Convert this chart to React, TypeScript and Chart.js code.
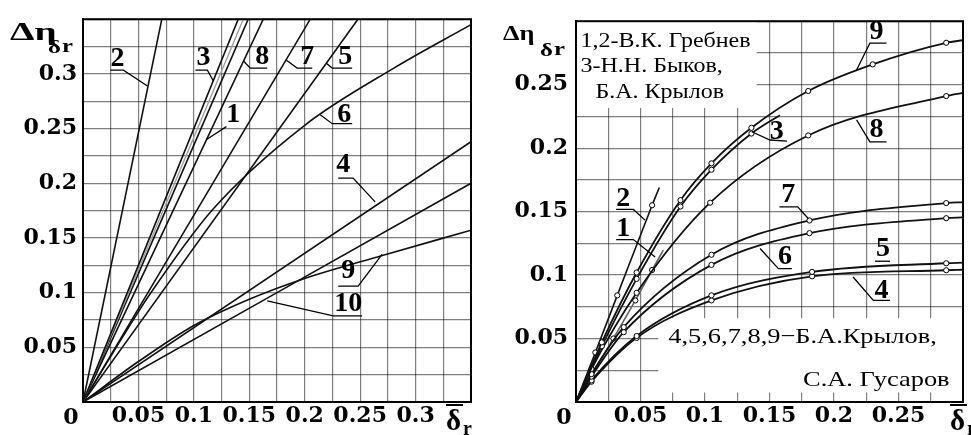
import React, { useEffect, useRef } from 'react';
import { Chart, registerables } from 'chart.js';

Chart.register(...registerables);

// ================= LEFT PANEL (both axes 0 .. 0.35) =================
const leftXTickLabels = ['0.05', '0.1', '0.15', '0.2', '0.25', '0.3'];
const leftYTickLabels = ['0.05', '0.1', '0.15', '0.2', '0.25', '0.3'];

const left2X = [0, 0.0711];
const left2Y = [0, 0.35];
const left3X = [0, 0.14];
const left3Y = [0, 0.35];
const left1fX = [0, 0.1446];
const left1fY = [0, 0.35];
const left1X = [0, 0.149];
const left1Y = [0, 0.35];
const left8X = [0, 0.1626];
const left8Y = [0, 0.35];
const left7X = [0, 0.205];
const left7Y = [0, 0.35];
const left5X = [0, 0.248];
const left5Y = [0, 0.35];
const left6X = [0, 0.03, 0.06, 0.117, 0.2, 0.28, 0.35];
const left6Y = [0, 0.05, 0.098, 0.176, 0.253, 0.305, 0.345];
const left4X = [0, 0.35];
const left4Y = [0, 0.238];
const left9X = [0, 0.05, 0.1, 0.15, 0.2, 0.27, 0.35];
const left9Y = [0, 0.037, 0.07, 0.094, 0.113, 0.134, 0.157];
const left10X = [0, 0.35];
const left10Y = [0, 0.2];

const leftLabelText = ['2', '3', '1', '8', '7', '5', '6', '4', '9', '10'];
const leftLabelX = [0.0311, 0.1086, 0.1356, 0.1617, 0.2023, 0.2365, 0.2356, 0.2347, 0.2392, 0.2392];
const leftLabelY = [0.3134, 0.3143, 0.2627, 0.3161, 0.3161, 0.3161, 0.2627, 0.2165, 0.1196, 0.0897];
const leftLeaders = [
  [[0.0248, 0.3034], [0.0365, 0.3034], [0.0581, 0.2889]],
  [[0.1014, 0.3034], [0.1122, 0.3034], [0.1176, 0.2935]],
  [[0.1293, 0.2518], [0.1115, 0.24]],
  [[0.145, 0.3116], [0.1509, 0.3053], [0.1662, 0.3053]],
  [[0.1835, 0.3125], [0.1932, 0.3053], [0.2068, 0.3053]],
  [[0.2195, 0.3098], [0.2248, 0.3053], [0.2428, 0.3053]],
  [[0.214, 0.2627], [0.2248, 0.2545], [0.2428, 0.2545]],
  [[0.2302, 0.2047], [0.2437, 0.2047], [0.2635, 0.183]],
  [[0.2302, 0.106], [0.2482, 0.106], [0.2698, 0.135]],
  [[0.2518, 0.0788], [0.2257, 0.0788], [0.1662, 0.0924]],
];

// ================= RIGHT PANEL (both axes 0 .. 0.3) =================
const rightXTickLabels = ['0.05', '0.1', '0.15', '0.2', '0.25'];
const rightYTickLabels = ['0.05', '0.1', '0.15', '0.2', '0.25'];

const right9X = [0, 0.02, 0.047, 0.081, 0.105, 0.136, 0.18, 0.23, 0.287, 0.3];
const right9Y = [0, 0.047, 0.102, 0.159, 0.188, 0.216, 0.245, 0.266, 0.283, 0.285];
const right3X = [0, 0.02, 0.047, 0.081, 0.105, 0.136, 0.158];
const right3Y = [0, 0.044, 0.097, 0.154, 0.183, 0.2115, 0.226];
const right8X = [0, 0.012, 0.047, 0.104, 0.18, 0.287, 0.3];
const right8Y = [0, 0.026, 0.086, 0.157, 0.21, 0.241, 0.2435];
const right7X = [0, 0.012, 0.037, 0.105, 0.181, 0.287, 0.3];
const right7Y = [0, 0.022, 0.059, 0.116, 0.143, 0.1567, 0.1575];
const right6X = [0, 0.012, 0.037, 0.105, 0.181, 0.287, 0.3];
const right6Y = [0, 0.02, 0.055, 0.108, 0.133, 0.1448, 0.1455];
const right5X = [0, 0.012, 0.047, 0.105, 0.183, 0.287, 0.3];
const right5Y = [0, 0.017, 0.052, 0.084, 0.1025, 0.1093, 0.1098];
const right4X = [0, 0.012, 0.047, 0.105, 0.183, 0.287, 0.3];
const right4Y = [0, 0.016, 0.0505, 0.08, 0.099, 0.1038, 0.1042];
const right2X = [0, 0.015, 0.032, 0.059, 0.0646];
const right2Y = [0, 0.039, 0.084, 0.155, 0.169];
const right1X = [0, 0.012, 0.029, 0.046, 0.059, 0.0677];
const right1Y = [0, 0.021, 0.05, 0.08, 0.104, 0.1196];

const rightLabelText = ['9', '3', '8', '7', '6', '5', '4', '2', '1'];
const rightLabelX = [0.2329, 0.1556, 0.2329, 0.1646, 0.162, 0.238, 0.2368, 0.0367, 0.0367];
const rightLabelY = [0.2919, 0.2129, 0.2143, 0.163, 0.1143, 0.1209, 0.088, 0.1604, 0.1367];
const rightLeaders = [
  [[0.2407, 0.2827], [0.2278, 0.2827], [0.2175, 0.2616]],
  [[0.1363, 0.2129], [0.1504, 0.2064], [0.1636, 0.2056]],
  [[0.2407, 0.205], [0.2278, 0.205], [0.2175, 0.2222]],
  [[0.1577, 0.1538], [0.1719, 0.1538], [0.18, 0.1446]],
  [[0.1673, 0.1051], [0.1569, 0.1051], [0.1427, 0.1209]],
  [[0.2318, 0.1109], [0.2434, 0.1109]],
  [[0.2434, 0.0801], [0.2305, 0.0801], [0.2148, 0.0985]],
  [[0.0311, 0.1517], [0.0445, 0.1517], [0.0535, 0.1433]],
  [[0.0311, 0.128], [0.0445, 0.128], [0.0613, 0.1143]],
];

// Text blocks inside the right panel
const rightTopLines = ['1,2-В.К. Гребнев', '3-Н.Н. Быков,', 'Б.А. Крылов'];
const rightTopLineX = [0.0035, 0.0035, 0.0151];
const rightTopLineY = [0.2837, 0.264, 0.2435];
const rightTopBox = [0, 0.2316, 0.14, 0.3];
const rightBottomLines = ['4,5,6,7,8,9−Б.А.Крылов,', 'С.А. Гусаров'];
const rightBottomLineX = [0.0715, 0.2896];
const rightBottomLineY = [0.0509, 0.017];
const rightBottomBox = [0.0638, 0.0075, 0.3, 0.066];

// ================= helpers =================
const SERIF = '"Liberation Serif", "Times New Roman", serif';
const TICK_FONT = { family: '"DejaVu Serif", serif', size: 22, weight: 'bold' as const };

function drawText(ctx: any, s: string, x: number, y: number, font: string, align = 'center', baseline = 'middle', sx = 1) {
  ctx.save();
  ctx.font = font;
  ctx.textAlign = align;
  ctx.textBaseline = baseline;
  ctx.fillStyle = '#000';
  ctx.translate(x, y);
  ctx.scale(sx, 1);
  ctx.fillText(s, 0, 0);
  ctx.restore();
}

function tickCb(labels: string[]) {
  return (v: any) => {
    const s = labels.find((l) => Math.abs(parseFloat(l) - Number(v)) < 1e-6);
    return s === undefined ? '' : s;
  };
}

type Series = { name: string; x: number[]; y: number[]; color: string; width: number };

type PanelCfg = {
  max: number;
  series: Series[];
  markers: boolean;
  xTicks: string[];
  yTicks: string[];
  yAxisW: number;
  xAxisH: number;
  padTop: number;
  padRight: number;
  yTickPad: number;
  labels: string[];
  labelX: number[];
  labelY: number[];
  leaders: number[][][];
  title: { dx: number; dy: number; size: number; sx: number; subDx: number; subDy: number; rDx: number };
  xTitleDx: number;
  boxes: number[][];
  boxTexts: { lines: string[]; xs: number[]; ys: number[]; size: number; align: string }[];
};

function annotPlugin(p: PanelCfg) {
  return {
    id: 'annot',
    beforeDatasetsDraw(chart: any) {
      const { ctx, scales } = chart;
      const xs = scales.x, ys = scales.y;
      ctx.save();
      ctx.fillStyle = '#fff';
      p.boxes.forEach((b) => {
        const x0 = xs.getPixelForValue(b[0]);
        const x1 = xs.getPixelForValue(b[2]);
        const y0 = ys.getPixelForValue(b[3]);
        const y1 = ys.getPixelForValue(b[1]);
        ctx.fillRect(x0, y0, x1 - x0, y1 - y0);
      });
      ctx.restore();
      p.boxTexts.forEach((bt) => {
        bt.lines.forEach((s, i) => {
          drawText(ctx, s, xs.getPixelForValue(bt.xs[i]), ys.getPixelForValue(bt.ys[i]),
            `${bt.size}px ${SERIF}`, bt.align, 'middle', 1.2);
        });
      });
    },
    afterDatasetsDraw(chart: any) {
      const { ctx, scales } = chart;
      const xs = scales.x, ys = scales.y;
      ctx.save();
      ctx.strokeStyle = '#000';
      ctx.lineWidth = 1.3;
      p.leaders.forEach((path) => {
        ctx.beginPath();
        path.forEach((pt, i) => {
          const px = xs.getPixelForValue(pt[0]);
          const py = ys.getPixelForValue(pt[1]);
          if (i === 0) ctx.moveTo(px, py); else ctx.lineTo(px, py);
        });
        ctx.stroke();
      });
      ctx.restore();
      p.labels.forEach((s, i) => {
        drawText(ctx, s, xs.getPixelForValue(p.labelX[i]), ys.getPixelForValue(p.labelY[i]),
          `bold 28px ${SERIF}`, 'center', 'middle', 1.0);
      });
    },
    afterDraw(chart: any) {
      const { ctx, chartArea: a } = chart;
      ctx.save();
      ctx.strokeStyle = '#000';
      ctx.lineWidth = 2;
      ctx.strokeRect(a.left, a.top, a.right - a.left, a.bottom - a.top);
      ctx.restore();
      // y title: Δη with subscript δr
      const t = p.title;
      drawText(ctx, 'Δη', a.left + t.dx, a.top + t.dy, `bold ${t.size}px ${SERIF}`, 'left', 'alphabetic', t.sx);
      drawText(ctx, 'δ', a.left + t.subDx, a.top + t.subDy, `bold 19px ${SERIF}`, 'left', 'alphabetic', 1.3);
      drawText(ctx, 'r', a.left + t.rDx, a.top + t.subDy - 1, `bold 19px ${SERIF}`, 'left', 'alphabetic', 1.3);
      // x title: δ̄r
      const bx = a.right + p.xTitleDx;
      drawText(ctx, 'δ', bx, a.bottom + 28, `bold 29px ${SERIF}`, 'left', 'alphabetic', 1.0);
      ctx.save();
      ctx.strokeStyle = '#000';
      ctx.lineWidth = 2;
      ctx.beginPath();
      ctx.moveTo(bx, a.bottom + 3);
      ctx.lineTo(bx + 17, a.bottom + 3);
      ctx.stroke();
      ctx.restore();
      drawText(ctx, 'r', bx + 17, a.bottom + 33, `bold 20px ${SERIF}`, 'left', 'alphabetic', 1.0);
      // origin "0"
      drawText(ctx, '0', a.left - 12, a.bottom + 16, `bold 22px "DejaVu Serif", serif`, 'center', 'middle', 1.0);
    },
  };
}

function buildConfig(p: PanelCfg): any {
  const gridOpts = { color: 'rgba(0,0,0,0.5)', lineWidth: 1.2, drawTicks: false };
  return {
    type: 'scatter',
    data: {
      datasets: p.series.map((s) => ({
        label: s.name,
        data: s.x.map((x, i) => ({ x, y: s.y[i] })),
        showLine: true,
        fill: false,
        borderColor: s.color,
        borderWidth: s.width,
        cubicInterpolationMode: 'monotone',
        pointRadius: (c: any) => (p.markers && c.dataIndex > 0 && c.dataIndex < s.x.length - 1 ? 2.6 : 0),
        pointBackgroundColor: '#fff',
        pointBorderColor: '#000',
        pointBorderWidth: 1,
      })),
    },
    options: {
      animation: false,
      responsive: false,
      maintainAspectRatio: false,
      devicePixelRatio: 1,
      events: [],
      layout: { padding: { left: 0, right: p.padRight, top: p.padTop, bottom: 0 } },
      plugins: { legend: { display: false }, tooltip: { enabled: false } },
      scales: {
        x: {
          type: 'linear',
          min: 0,
          max: p.max,
          grid: gridOpts,
          border: { display: true, color: '#000', width: 2 },
          ticks: {
            stepSize: 0.025,
            autoSkip: false,
            maxRotation: 0,
            minRotation: 0,
            padding: 1,
            color: '#000',
            font: TICK_FONT,
            callback: tickCb(p.xTicks),
          },
          afterFit: (s: any) => { s.height = p.xAxisH; },
        },
        y: {
          type: 'linear',
          min: 0,
          max: p.max,
          grid: gridOpts,
          border: { display: true, color: '#000', width: 2 },
          ticks: {
            stepSize: 0.025,
            autoSkip: false,
            padding: p.yTickPad,
            color: '#000',
            font: TICK_FONT,
            callback: tickCb(p.yTicks),
          },
          afterFit: (s: any) => { s.width = p.yAxisW; },
        },
      },
    },
    plugins: [annotPlugin(p)],
  };
}

const K = '#111';

const leftCfg: PanelCfg = {
  max: 0.35,
  markers: false,
  series: [
    { name: '2', x: left2X, y: left2Y, color: K, width: 1.6 },
    { name: '3', x: left3X, y: left3Y, color: K, width: 1.6 },
    { name: '1 (faint)', x: left1fX, y: left1fY, color: '#a0a0a0', width: 1.4 },
    { name: '1', x: left1X, y: left1Y, color: K, width: 1.6 },
    { name: '8', x: left8X, y: left8Y, color: K, width: 1.6 },
    { name: '7', x: left7X, y: left7Y, color: K, width: 1.6 },
    { name: '5', x: left5X, y: left5Y, color: K, width: 1.6 },
    { name: '6', x: left6X, y: left6Y, color: K, width: 1.6 },
    { name: '4', x: left4X, y: left4Y, color: K, width: 1.6 },
    { name: '9', x: left9X, y: left9Y, color: K, width: 1.6 },
    { name: '10', x: left10X, y: left10Y, color: K, width: 1.6 },
  ],
  xTicks: leftXTickLabels,
  yTicks: leftYTickLabels,
  yAxisW: 83,
  xAxisH: 33,
  padTop: 15,
  padRight: 15,
  yTickPad: 6,
  labels: leftLabelText,
  labelX: leftLabelX,
  labelY: leftLabelY,
  leaders: leftLeaders,
  title: { dx: -73, dy: 21, size: 26, sx: 1.5, subDx: -35, subDy: 34, rDx: -21 },
  xTitleDx: -25,
  boxes: [],
  boxTexts: [],
};

const rightCfg: PanelCfg = {
  max: 0.3,
  markers: true,
  series: [
    { name: '9', x: right9X, y: right9Y, color: K, width: 1.8 },
    { name: '3', x: right3X, y: right3Y, color: K, width: 1.8 },
    { name: '8', x: right8X, y: right8Y, color: K, width: 1.8 },
    { name: '7', x: right7X, y: right7Y, color: K, width: 1.8 },
    { name: '6', x: right6X, y: right6Y, color: K, width: 1.8 },
    { name: '5', x: right5X, y: right5Y, color: K, width: 1.8 },
    { name: '4', x: right4X, y: right4Y, color: K, width: 1.8 },
    { name: '2', x: right2X, y: right2Y, color: K, width: 1.6 },
    { name: '1', x: right1X, y: right1Y, color: '#666', width: 1.6 },
  ],
  xTicks: rightXTickLabels,
  yTicks: rightYTickLabels,
  yAxisW: 90,
  xAxisH: 33,
  padTop: 21,
  padRight: 8,
  yTickPad: 8,
  labels: rightLabelText,
  labelX: rightLabelX,
  labelY: rightLabelY,
  leaders: rightLeaders,
  title: { dx: -73, dy: 19, size: 22, sx: 1.2, subDx: -36, subDy: 35, rDx: -22 },
  xTitleDx: -13,
  boxes: [rightTopBox, rightBottomBox],
  boxTexts: [
    { lines: rightTopLines, xs: rightTopLineX, ys: rightTopLineY, size: 20, align: 'left' },
    { lines: [rightBottomLines[0]], xs: [rightBottomLineX[0]], ys: [rightBottomLineY[0]], size: 22, align: 'left' },
    { lines: [rightBottomLines[1]], xs: [rightBottomLineX[1]], ys: [rightBottomLineY[1]], size: 22, align: 'right' },
  ],
};

function Panel({ cfg, left, width }: { cfg: PanelCfg; left: number; width: number }) {
  const ref = useRef<HTMLCanvasElement>(null);
  useEffect(() => {
    const chart = new Chart(ref.current as HTMLCanvasElement, buildConfig(cfg));
    return () => chart.destroy();
  }, [cfg]);
  return (
    <canvas
      ref={ref}
      width={width}
      height={435}
      style={{ position: 'absolute', left, top: 0, width, height: 435 }}
    />
  );
}

export default function App() {
  return (
    <div style={{ position: 'absolute', left: 0, top: 0, width: 971, height: 435, background: '#fff', overflow: 'hidden' }}>
      <Panel cfg={leftCfg} left={0} width={486} />
      <Panel cfg={rightCfg} left={486} width={485} />
    </div>
  );
}
